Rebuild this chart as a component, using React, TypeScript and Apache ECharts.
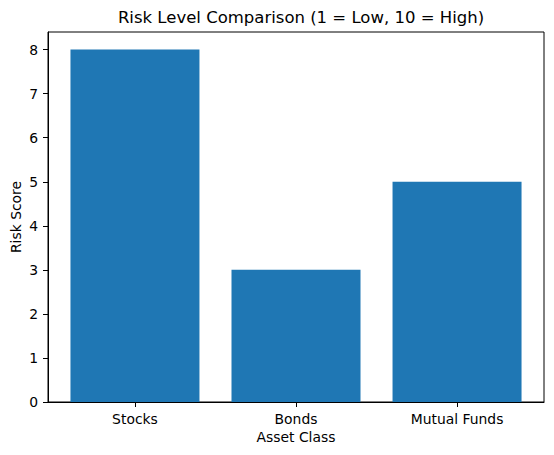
import React, { useEffect, useRef } from "react";
import * as echarts from "echarts";

const categories = ["Stocks", "Bonds", "Mutual Funds"];
const riskScores = [8, 3, 5];
const yTicks = [0, 1, 2, 3, 4, 5, 6, 7, 8];

const font = "'DejaVu Sans', sans-serif";

const App: React.FC = () => {
  const chartRef = useRef<HTMLDivElement | null>(null);

  useEffect(() => {
    document.body.style.margin = "0";
    if (!chartRef.current) return;

    const chart = echarts.init(chartRef.current, undefined, { renderer: "svg" });

    const xPositions = categories.map((_, i) => i);

    const options = {
      animation: false,
      textStyle: { fontFamily: font },
      title: {
        text: "Risk Level Comparison (1 = Low, 10 = High)",
        left: 296,
        top: 4,
        textAlign: "center",
        textStyle: {
          fontFamily: font,
          fontSize: 16.5,
          fontWeight: "normal",
          color: "#000",
        },
      },
      grid: {
        left: 48,
        right: 10,
        top: 32,
        bottom: 53,
        show: true,
        borderColor: "#000",
        borderWidth: 1,
        backgroundColor: "transparent",
        containLabel: false,
        outerBoundsMode: "none",
      },
      xAxis: {
        type: "value",
        min: -0.54,
        max: 2.54,
        name: "Asset Class",
        nameLocation: "middle",
        nameGap: 28,
        nameMoveOverlap: false,
        nameTextStyle: { fontFamily: font, fontSize: 13.9, color: "#000" },
        axisLine: { show: true, onZero: false, lineStyle: { color: "#000", width: 1 } },
        axisTick: {
          show: true,
          length: 5,
          lineStyle: { color: "#000", width: 1 },
          customValues: xPositions,
        },
        axisLabel: {
          customValues: xPositions,
          margin: 10,
          fontFamily: font,
          fontSize: 13.9,
          color: "#000",
          formatter: (v: number) => categories[Math.round(v)] ?? "",
        },
        splitLine: { show: false },
      },
      yAxis: {
        type: "value",
        min: 0,
        max: 8.4,
        name: "Risk Score",
        nameLocation: "middle",
        nameGap: 25,
        nameMoveOverlap: false,
        nameTextStyle: { fontFamily: font, fontSize: 13.9, color: "#000" },
        axisLine: { show: true, onZero: false, lineStyle: { color: "#000", width: 1 } },
        axisTick: {
          show: true,
          length: 5,
          lineStyle: { color: "#000", width: 1 },
          customValues: yTicks,
        },
        axisLabel: {
          customValues: yTicks,
          margin: 10,
          fontFamily: font,
          fontSize: 13.9,
          color: "#000",
        },
        splitLine: { show: false },
      },
      series: [
        {
          type: "bar",
          data: riskScores.map((v, i) => [i, v]),
          barWidth: 129,
          itemStyle: { color: "#1f77b4" },
        },
      ],
    };

    chart.setOption(options);

    return () => {
      chart.dispose();
    };
  }, []);

  return <div ref={chartRef} style={{ width: "554px", height: "455px" }} />;
};

export default App;
